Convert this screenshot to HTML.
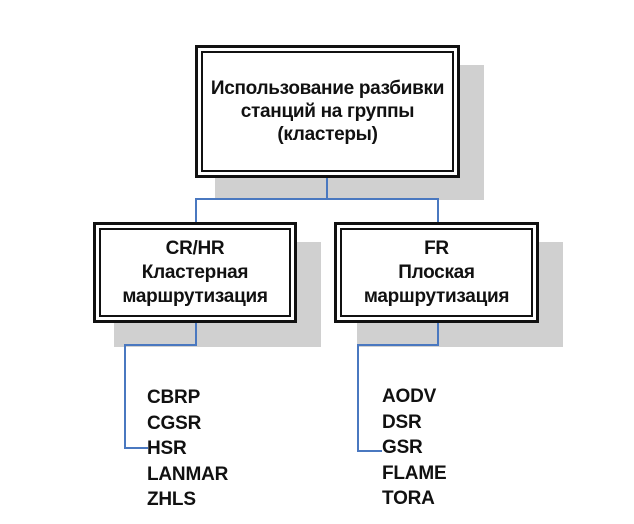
<!DOCTYPE html>
<html><head><meta charset="utf-8"><style>
body{margin:0;width:634px;height:524px;background:#fff;position:relative;overflow:hidden;font-family:"Liberation Sans",Arial,sans-serif;color:#111}
.sh{position:absolute;background:#d0d0d0}
.box{position:absolute;background:#fff;border:3px solid #111;box-sizing:border-box}
.box .in{position:absolute;left:3px;top:3px;right:3px;bottom:3px;border:2px solid #111;display:flex;flex-direction:column;align-items:center;justify-content:center;text-align:center;line-height:24px;font-size:19px;font-weight:bold;letter-spacing:-0.3px;white-space:nowrap}
.l{position:absolute;background:#4a78c0}
.list{position:absolute;font-size:19px;font-weight:bold;line-height:25.5px;letter-spacing:-0.2px}
</style></head><body>
<div class="sh" style="left:215px;top:65px;width:269px;height:135px"></div>
<div class="sh" style="left:114px;top:242px;width:207px;height:105px"></div>
<div class="sh" style="left:357px;top:242px;width:206px;height:105px"></div>

<div class="l" style="left:326px;top:177px;width:2px;height:23px"></div>
<div class="l" style="left:195px;top:198px;width:244px;height:2px"></div>
<div class="l" style="left:195px;top:198px;width:2px;height:25px"></div>
<div class="l" style="left:437px;top:198px;width:2px;height:25px"></div>

<div class="l" style="left:195px;top:322px;width:2px;height:24px"></div>
<div class="l" style="left:124px;top:344px;width:73px;height:2px"></div>
<div class="l" style="left:124px;top:344px;width:2px;height:105px"></div>
<div class="l" style="left:124px;top:447px;width:24px;height:2px"></div>

<div class="l" style="left:437px;top:322px;width:2px;height:24px"></div>
<div class="l" style="left:357px;top:344px;width:82px;height:2px"></div>
<div class="l" style="left:357px;top:344px;width:2px;height:108px"></div>
<div class="l" style="left:357px;top:450px;width:25px;height:2px"></div>

<div class="box" style="left:195px;top:45px;width:265px;height:133px"><div class="in" style="line-height:23px">Использование разбивки<br>станций на группы<br>(кластеры)</div></div>
<div class="box" style="left:93px;top:222px;width:204px;height:101px"><div class="in">CR/HR<br>Кластерная<br>маршрутизация</div></div>
<div class="box" style="left:334px;top:222px;width:205px;height:101px"><div class="in">FR<br>Плоская<br>маршрутизация</div></div>

<div class="list" style="left:147px;top:385px">CBRP<br>CGSR<br>HSR<br>LANMAR<br>ZHLS</div>
<div class="list" style="left:382px;top:384px">AODV<br>DSR<br>GSR<br>FLAME<br>TORA</div>
</body></html>
